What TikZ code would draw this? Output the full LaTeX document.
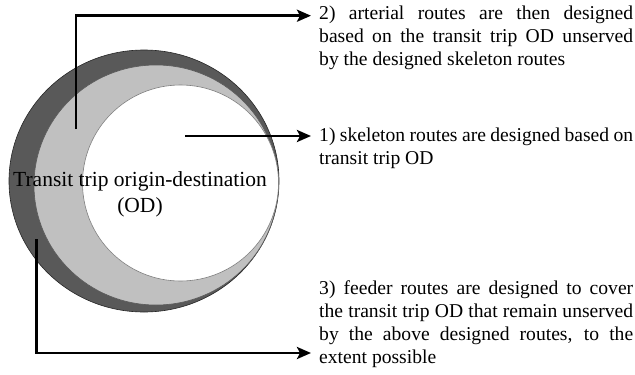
\documentclass[tikz,border=0pt]{standalone}
\usepackage{fontspec}
\setmainfont{Liberation Serif}
\usetikzlibrary{arrows.meta}
\definecolor{ringdark}{RGB}{89,89,89}
\definecolor{ringlight}{RGB}{192,192,192}
\hbadness=10000
\begin{document}
\begin{tikzpicture}[x=1pt,y=-1pt,
  arr/.style={line width=2.7pt,-{Stealth[length=14pt,width=12pt,inset=3pt]}},
  desc/.style={anchor=base west,inner sep=0pt,text width=314pt,align=justify,
    font=\fontsize{19.6}{23}\selectfont},
  ring/.style={line width=0.6pt}]
\useasboundingbox (0,0) rectangle (635,375);
\fill[white] (0,0) rectangle (635,375);
% rings
\draw[ring,fill=ringdark,draw=black!85] (144,181) ellipse [x radius=135,y radius=131];
\draw[ring,fill=ringlight,draw=black!65] (156,185) ellipse [x radius=122,y radius=120];
\draw[ring,fill=white,draw=black!50] (180.5,183) circle [radius=98];
% centre label
\node[font=\fontsize{21.5}{26}\selectfont,align=center,inner sep=0pt] (od) at (140,194)
  {Transit trip origin-destination\\(OD)};
% descriptions
\node[desc] (t2) at (319,19.3) {2) arterial routes are then designed\linebreak
  based on the transit trip OD unserved\linebreak by the designed skeleton routes};
\node[desc] (t1) at (319,141) {1) skeleton routes are designed based on\linebreak
  transit trip OD};
\node[desc] (t3) at (319,294) {3) feeder routes are designed to cover\linebreak
  the transit trip OD that remain unserved\linebreak by the above designed routes, to the\linebreak
  extent possible};
% arrows
\coordinate (s2) at (76,129);
\coordinate (e2) at (311,15.7);
\coordinate (s1) at (185,136);
\coordinate (e1) at (311,136);
\coordinate (s3) at (36.7,239);
\coordinate (e3) at (311,353);
\draw[arr] (s2) |- (e2);
\draw[arr] (s1) -- (e1);
\draw[arr] (s3) |- (e3);
\end{tikzpicture}
\end{document}
